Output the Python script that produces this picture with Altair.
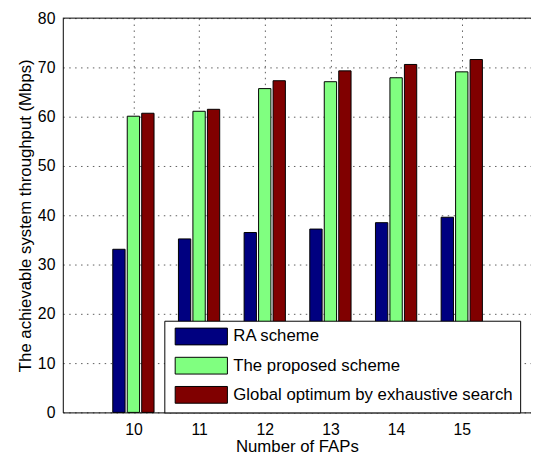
import altair as alt
import pandas as pd

faps = [10, 11, 12, 13, 14, 15]
series = ["RA scheme", "The proposed scheme", "Global optimum by exhaustive search"]
colors = ["#000080", "#80FF80", "#800000"]
ra_scheme = [33.1, 35.2, 36.5, 37.2, 38.5, 39.6]
proposed = [60.1, 61.1, 65.7, 67.1, 67.9, 69.1]
global_opt = [60.7, 61.5, 67.3, 69.3, 70.6, 71.6]
y_ticks = [0, 10, 20, 30, 40, 50, 60, 70, 80]

rows = []
for idx, (name, vals) in enumerate(zip(series, [ra_scheme, proposed, global_opt])):
    for f, v in zip(faps, vals):
        rows.append({"fap": f, "series": name, "idx": idx, "value": v})
df = pd.DataFrame(rows)

W, H = 475, 400
FONT = "Liberation Sans"
sym_path = "M-0.588,-1L5.647,-1L5.647,1L-0.588,1Z"

xscale = alt.Scale(domain=[9, 9 + W / 68.06], nice=False, zero=False)
yscale = alt.Scale(domain=[0, 80], nice=False)

bars = alt.Chart(df).transform_calculate(
    xpos="datum.fap + (datum.idx - 1) * 0.2204"
).mark_bar(size=12.5, stroke="black", strokeWidth=1).encode(
    x=alt.X("xpos:Q", scale=xscale,
            axis=alt.Axis(values=faps, title="Number of FAPs", grid=True,
                          ticks=False, labelPadding=9, titlePadding=2,
                          format="d")),
    y=alt.Y("value:Q", scale=yscale,
            axis=alt.Axis(values=y_ticks, title="The achievable system throughput (Mbps)",
                          grid=True, ticks=False, labelPadding=8, titlePadding=3)),
    color=alt.Color("series:N", scale=alt.Scale(domain=series, range=colors),
                    legend=alt.Legend(title=None, orient="none", legendX=103, legendY=307,
                                      symbolType=sym_path, symbolSize=289,
                                      symbolStrokeColor="black", symbolStrokeWidth=1,
                                      symbolOpacity=1, labelOffset=45, rowPadding=7.6,
                                      padding=7, fillColor="white", strokeColor="black",
                                      labelFontSize=17, labelFont=FONT, labelColor="black",
                                      labelLimit=400)),
)

top = alt.Chart(pd.DataFrame({"y": [80]})).mark_rule(color="black", strokeWidth=1).encode(
    y=alt.Y("y:Q", scale=yscale), x=alt.value(0), x2=alt.value(W)
)

chart = alt.layer(bars, top).properties(
    width=W, height=H,
    autosize=alt.AutoSizeParams(type="none"),
    padding={"left": 55.6, "top": 7, "right": 0, "bottom": 44},
    background="white",
).configure_view(stroke=None).configure_axis(
    labelFont=FONT, titleFont=FONT, labelFontSize=16, titleFontSize=17,
    labelColor="black", titleColor="black", titleFontWeight="normal",
    domainColor="black", domainWidth=1,
    gridColor="#333", gridDash=[1.5, 4.5], gridOpacity=0.8, gridWidth=1,
)

chart.save("out.html", embed_options={"renderer": "svg", "actions": False})
